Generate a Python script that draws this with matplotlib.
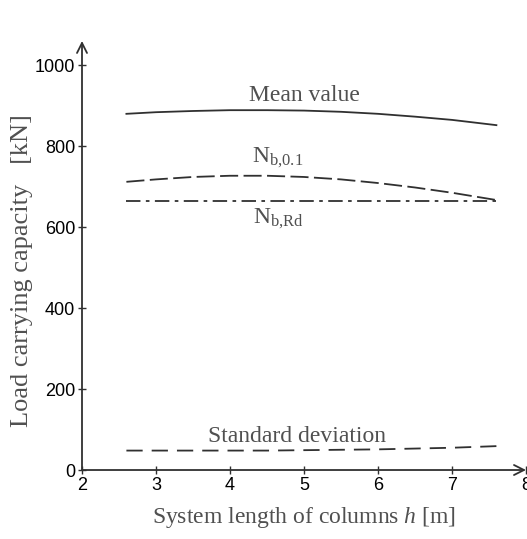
import numpy as np
import matplotlib.pyplot as plt

plt.rcParams["mathtext.fontset"] = "custom"
plt.rcParams["mathtext.rm"] = "Liberation Serif"
plt.rcParams["mathtext.it"] = "Liberation Serif:italic"

# -----------------------------
# Daten
# -----------------------------
h = [2.6, 3.0, 3.5, 4.0, 4.5, 5.0, 5.5, 6.0, 6.5, 7.0, 7.6]
mean_value = [880, 884, 887, 889, 889, 888, 885, 880, 873, 865, 852]
n_b01 = [712, 718, 724, 727, 727, 724, 718, 709, 698, 685, 667]
n_brd = [665, 665, 665, 665, 665, 665, 665, 665, 665, 665, 665]
std_dev = [48, 48, 48, 48, 48, 49, 50, 51, 53, 55, 59]

xticks = [2, 3, 4, 5, 6, 7, 8]
yticks = [0, 200, 400, 600, 800, 1000]

line_col = "#303030"
text_col = "#505050"
serif = ["Liberation Serif", "DejaVu Serif"]

fig = plt.figure(figsize=(5.27, 5.39), dpi=100)
ax = fig.add_axes([0.1556, 0.128, 0.8425, 0.796])

ax.plot(h, mean_value, color=line_col, lw=1.3)
ax.plot(h, n_b01, color=line_col, lw=1.3, dashes=(10, 3))
ax.plot(h, n_brd, color=line_col, lw=1.3, dashes=(8, 3, 2, 3))
ax.plot(h, std_dev, color=line_col, lw=1.3, dashes=(9, 5))

ax.set_xlim(2, 8)
ax.set_ylim(0, 1060)
ax.set_xticks(xticks)
ax.set_yticks(yticks)

for s in ax.spines.values():
    s.set_visible(False)

# Achsen mit Pfeilen
ax.annotate("", xy=(1.0, 0), xytext=(0, 0), xycoords="axes fraction",
            arrowprops=dict(arrowstyle="->", color=line_col, lw=1.3,
                            mutation_scale=18, shrinkA=0, shrinkB=0),
            annotation_clip=False)
ax.annotate("", xy=(0, 1.0), xytext=(0, 0), xycoords="axes fraction",
            arrowprops=dict(arrowstyle="->", color=line_col, lw=1.3,
                            mutation_scale=18, shrinkA=0, shrinkB=0),
            annotation_clip=False)

ax.tick_params(direction="inout", length=6, width=1.0, color=line_col,
               labelsize=13, pad=2)
for lab in ax.get_xticklabels() + ax.get_yticklabels():
    lab.set_family("Liberation Sans")

# Beschriftungen der Kurven
ax.text(5.0, 925, "Mean value", family=serif, fontsize=17, color=text_col,
        ha="center", va="center")
ax.text(4.65, 772, r"N$_{\mathregular{b{,}0.1}}$", family=serif, fontsize=17,
        color=text_col, ha="center", va="center")
ax.text(4.65, 620, r"N$_{\mathregular{b{,}Rd}}$", family=serif, fontsize=17,
        color=text_col, ha="center", va="center")
ax.text(4.9, 84, "Standard deviation", family=serif, fontsize=17,
        color=text_col, ha="center", va="center")

ax.set_ylabel("Load carrying capacity   [kN]", family=serif, fontsize=19,
              color=text_col)
ax.yaxis.set_label_coords(-0.11, 0.465)
ax.set_xlabel(r"System length of columns $h$ [m]", family=serif, fontsize=17,
              color=text_col, labelpad=8)

fig.savefig("out.png", dpi=100)
